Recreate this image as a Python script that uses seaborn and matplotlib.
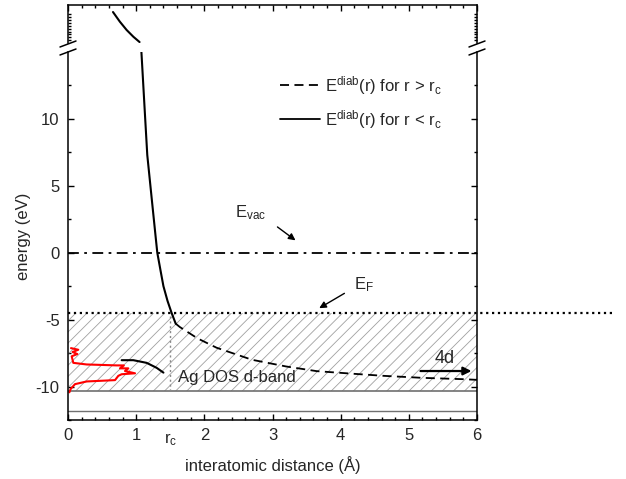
import numpy as np
import matplotlib
matplotlib.use('Agg')
from matplotlib import pyplot as plt
from matplotlib.lines import Line2D
import seaborn as sns

# solid diabatic curve, r < rc (lower panel)
r_in = [1.077, 1.127, 1.163, 1.229, 1.286, 1.31, 1.36, 1.40, 1.46, 1.52, 1.58]
e_in = [15.0, 10.5, 7.3, 4.0, 1.17, 0.0, -1.4, -2.5, -3.6, -4.5, -5.3]
# same curve continued above the axis break
r_top = [0.66, 0.76, 0.86, 0.96, 1.05]
e_top = [52.6, 42.5, 33.7, 26.5, 21.0]
# dashed diabatic curve, r > rc
r_out = [1.58, 1.64, 1.90, 2.18, 2.70, 3.20, 3.65, 4.20, 4.63, 5.20, 5.80, 6.00]
e_out = [-5.3, -5.55, -6.4, -7.1, -8.0, -8.5, -8.85, -9.05, -9.2, -9.35, -9.45, -9.5]
# Ag DOS (red)
dos = [0.044, 0.151, 0.068, 0.137, 0.054, 0.078, 0.274, 0.714, 0.82, 0.763, 0.885,
       0.836, 0.983, 0.787, 0.738, 0.69, 0.274, 0.103, 0.039, 0.02]
e_dos = [-7.13, -7.25, -7.42, -7.57, -7.74, -8.23, -8.35, -8.42, -8.42, -8.64, -8.64,
         -8.84, -9.01, -9.08, -9.2, -9.52, -9.62, -9.82, -10.18, -10.43]
# curved pointer to the DOS
r_ptr = [0.787, 0.958, 1.154, 1.30, 1.40]
e_ptr = [-8.03, -8.03, -8.23, -8.6, -8.96]

e_vac = 0.0
e_fermi = -4.47
e_dband_bottom = -10.35
r_c = 1.5
xticks = [0, 1, 2, 3, 4, 5, 6]
yticks = [-10, -5, 0, 5, 10]

sns.set_style('ticks')
plt.rcParams['font.family'] = ['Liberation Sans', 'DejaVu Sans']
plt.rcParams['mathtext.default'] = 'regular'
plt.rcParams['axes.unicode_minus'] = False
plt.rcParams['hatch.linewidth'] = 0.6
plt.rcParams['font.size'] = 12

fig = plt.figure(figsize=(6.26, 4.79), dpi=100)
ax_top = fig.add_axes([68/626, 1-43/479, 409/626, 38/479])
ax = fig.add_axes([68/626, 1-420/479, 409/626, 368/479])

for a in (ax, ax_top):
    for s in a.spines.values():
        s.set_linewidth(1.1)
        s.set_color('black')
    a.set_xlim(0, 6)
    a.tick_params(which='both', direction='in', color='black', width=1.0)
    a.tick_params(which='major', length=4.5)
    a.tick_params(which='minor', length=2.5)

# upper panel (above break)
ax_top.set_ylim(20, 60)
ax_top.spines['bottom'].set_visible(False)
ax_top.xaxis.tick_top()
ax_top.set_xticks(xticks)
ax_top.set_xticks(np.arange(0, 6.01, 0.2), minor=True)
ax_top.tick_params(axis='x', which='both', labeltop=False, top=True, bottom=False)
ax_top.set_yticks([])
ax_top.set_yticks(list(range(23, 51, 3)), minor=True)
ax_top.tick_params(axis='y', which='minor', left=True, right=True, labelleft=False)
sns.lineplot(x=r_top, y=e_top, ax=ax_top, color='black', lw=1.5, sort=False, estimator=None)

# lower panel
ax.set_ylim(-12, 15)
ax.spines['top'].set_visible(False)
ax.set_xticks(xticks)
ax.set_xticks(np.arange(0, 6.01, 0.2), minor=True)
ax.set_yticks(yticks)
ax.set_yticks(np.arange(-12.5, 15, 2.5), minor=True)
ax.tick_params(axis='y', which='both', left=True, right=True)
ax.tick_params(axis='x', which='both', top=False, bottom=True)
ax.tick_params(labelsize=12, pad=6)

# occupied d-band (hatched)
ax.fill_between([0, 6], e_dband_bottom, e_fermi, facecolor='none', edgecolor='#a0a0a0',
                hatch='///', linewidth=0)
ax.axhline(e_dband_bottom, color='#707070', lw=1.2)
ax.axhline(-11.8, color='#707070', lw=1.0)
ax.plot([r_c, r_c], [e_dband_bottom, e_fermi], color='#888888', lw=1.0, ls=(0, (1.5, 2)))

ax.plot([0, 8.02], [e_fermi, e_fermi], color='black', lw=1.6, ls=':', clip_on=False)
ax.plot([0, 6], [e_vac, e_vac], color='black', lw=1.3, ls=(0, (6, 3, 1.5, 3)))

sns.lineplot(x=r_in, y=e_in, ax=ax, color='black', lw=1.5, sort=False, estimator=None)
sns.lineplot(x=r_out, y=e_out, ax=ax, color='black', lw=1.3, sort=False, estimator=None,
             linestyle=(0, (5, 3)))
sns.lineplot(x=dos, y=e_dos, ax=ax, color='red', lw=1.5, sort=False, estimator=None)
sns.lineplot(x=r_ptr, y=e_ptr, ax=ax, color='black', lw=1.5, sort=False, estimator=None)

# legend drawn Origin-style
ax.plot([3.11, 3.70], [12.5, 12.5], color='black', lw=1.3, ls=(0, (5, 3)))
ax.plot([3.11, 3.70], [9.96, 9.96], color='black', lw=1.3)
ax.text(3.77, 12.5, r'E$^{diab}$(r) for r > r$_c$', va='center', ha='left', fontsize=12)
ax.text(3.77, 9.96, r'E$^{diab}$(r) for r < r$_c$', va='center', ha='left', fontsize=12)

arrow = dict(arrowstyle='-|>', color='black', lw=1.0, mutation_scale=10)
ax.text(2.45, 3.0, r'E$_{vac}$', fontsize=12, ha='left', va='center')
ax.annotate('', xy=(3.37, 0.8), xytext=(3.04, 2.05), arrowprops=arrow)
ax.text(4.2, -2.4, r'E$_F$', fontsize=12, ha='left', va='center')
ax.annotate('', xy=(3.65, -4.25), xytext=(4.09, -2.93), arrowprops=arrow)
ax.text(1.61, -9.3, 'Ag DOS d-band', fontsize=12, ha='left', va='center')
ax.text(5.52, -7.9, '4d', fontsize=13, ha='center', va='center')
ax.annotate('', xy=(5.96, -8.84), xytext=(5.13, -8.84),
            arrowprops=dict(arrowstyle='-|>', color='black', lw=1.6, mutation_scale=12))

ax.text(r_c, -0.03, r'r$_c$', transform=ax.get_xaxis_transform(), ha='center', va='top',
        fontsize=12)

ax.set_xlabel('interatomic distance (Å)', fontsize=12, labelpad=9)
ax.set_ylabel('energy (eV)', fontsize=12)
ax.yaxis.set_label_coords(-0.09, 0.5)

# axis break marks
for xp in (68, 477):
    for yp in (44, 52):
        fig.add_artist(Line2D([(xp-8)/626, (xp+8)/626], [1-(yp+3)/479, 1-(yp-3)/479],
                              transform=fig.transFigure, color='black', lw=1.1))

fig.savefig('out.png', dpi=100)
